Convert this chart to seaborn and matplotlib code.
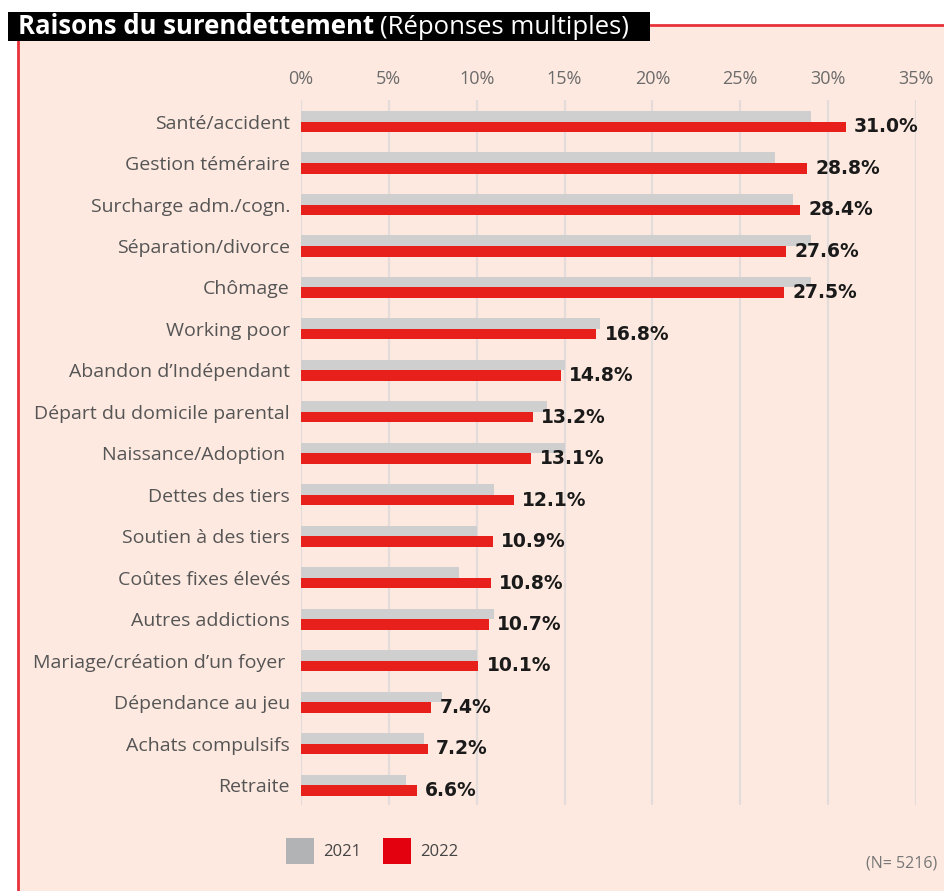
import matplotlib
matplotlib.use("Agg")
import matplotlib.pyplot as plt
from matplotlib.patches import Rectangle, Patch
import pandas as pd
import seaborn as sns

# Data
categories = [
    "Santé/accident", "Gestion téméraire", "Surcharge adm./cogn.",
    "Séparation/divorce", "Chômage", "Working poor", "Abandon d’Indépendant",
    "Départ du domicile parental", "Naissance/Adoption ", "Dettes des tiers",
    "Soutien à des tiers", "Coûtes fixes élevés", "Autres addictions",
    "Mariage/création d’un foyer ", "Dépendance au jeu", "Achats compulsifs",
    "Retraite",
]
values_2021 = [29.0, 27.0, 28.0, 29.0, 29.0, 17.0, 15.0, 14.0, 15.0, 11.0,
               10.0, 9.0, 11.0, 10.0, 8.0, 7.0, 6.0]
values_2022 = [31.0, 28.8, 28.4, 27.6, 27.5, 16.8, 14.8, 13.2, 13.1, 12.1,
               10.9, 10.8, 10.7, 10.1, 7.4, 7.2, 6.6]
years = ["2021", "2022"]
x_ticks = [0, 5, 10, 15, 20, 25, 30, 35]

bg = "#fde9e0"
grey_bar = "#cfcfcf"
red_bar = "#e8201c"
red_line = "#e8323a"

df = pd.DataFrame({
    "cat": categories * 2,
    "year": [years[0]] * len(categories) + [years[1]] * len(categories),
    "val": values_2021 + values_2022,
})

sns.set_style("white")
plt.rcParams["font.family"] = ["Open Sans", "DejaVu Sans"]

W, H = 944, 891
fig = plt.figure(figsize=(W / 100, H / 100), dpi=100)
fig.patch.set_facecolor("white")

# pink panel + red frame lines
fig.add_artist(Rectangle((19 / W, 0), 1, (H - 25) / H, transform=fig.transFigure,
                         facecolor=bg, edgecolor="none", zorder=0))
fig.add_artist(plt.Line2D([650 / W, 1], [(H - 25) / H] * 2, color=red_line,
                          lw=2, transform=fig.transFigure))
fig.add_artist(plt.Line2D([18 / W] * 2, [0, (H - 41) / H], color=red_line,
                          lw=2, transform=fig.transFigure))
# black title box
fig.add_artist(Rectangle((8 / W, (H - 41) / H), 642 / W, 29 / H,
                         transform=fig.transFigure, facecolor="black",
                         edgecolor="none", zorder=3))

ax = fig.add_axes([301 / W, (H - 805) / H, 615 / W, 705 / H])
ax.set_facecolor(bg)
ax.patch.set_alpha(0)

sns.barplot(data=df, y="cat", x="val", hue="year", hue_order=years,
            palette={years[0]: grey_bar, years[1]: red_bar}, orient="h",
            width=0.51, gap=0, saturation=1, legend=False, linewidth=0,
            ax=ax)

ax.set_xlim(0, 35)
ax.set_ylim(len(categories) - 0.52, -0.52)
ax.set_xticks(x_ticks)
ax.set_xticklabels([f"{t}%" for t in x_ticks])
ax.xaxis.tick_top()
ax.tick_params(axis="x", length=0, pad=9, labelsize=13, labelcolor="#6b6b6b")
ax.tick_params(axis="y", length=0, pad=8, labelsize=14, labelcolor="#555555")
ax.set_xlabel("")
ax.set_ylabel("")
ax.xaxis.grid(True, color="#e3dcda", linewidth=1.6)
ax.yaxis.grid(False)
ax.set_axisbelow(True)
for s in ax.spines.values():
    s.set_visible(False)

ax.bar_label(ax.containers[1], labels=[f"{v:.1f}%" for v in values_2022],
             padding=6, fontsize=13.5, fontweight="bold", color="#1a1a1a",
             family="DejaVu Sans")

# legend
handles = [Patch(facecolor="#b1b3b4", edgecolor="none", label=years[0]),
           Patch(facecolor="#e3000f", edgecolor="none", label=years[1])]
fig.legend(handles=handles, loc="center left",
           bbox_to_anchor=(286 / W, (H - 851) / H), ncol=2, frameon=False,
           fontsize=12, handlelength=1.68, handleheight=2.0,
           handletextpad=0.55, columnspacing=1.3, borderpad=0,
           borderaxespad=0, labelcolor="#444444")

fig.text(937 / W, (H - 863) / H, "(N= 5216)", ha="right", va="center",
         fontsize=11.5, color="#777777")

# title
t1 = fig.text(18 / W, (H - 34) / H, "Raisons du surendettement", color="white",
              fontsize=18.5, fontweight="bold", va="baseline", zorder=4)
fig.canvas.draw()
bb = t1.get_window_extent()
fig.text(bb.x1 / W + 6 / W, (H - 34) / H, "(Réponses multiples)", color="white",
         fontsize=18.5, va="baseline", zorder=4)

fig.savefig("out.png", dpi=100, facecolor="white")
